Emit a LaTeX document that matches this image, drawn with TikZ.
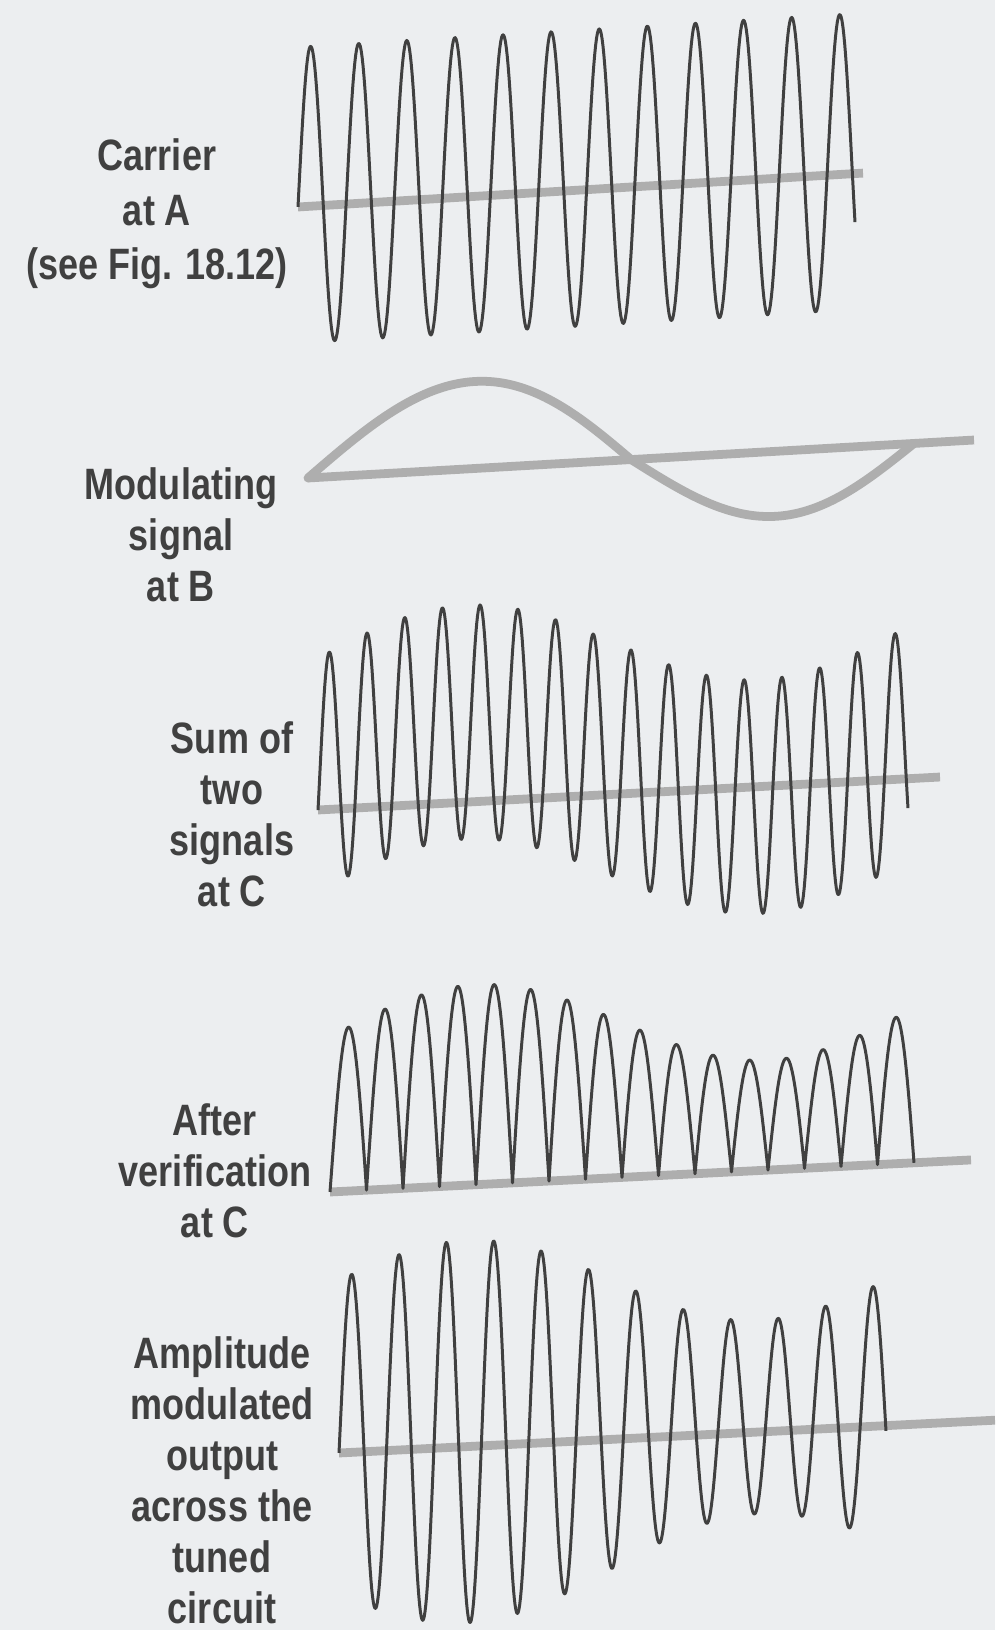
\documentclass[tikz,border=0pt]{standalone}
\usepackage{fontspec}
\newfontfamily\capfont{Liberation Sans}[FakeStretch=0.82]
\definecolor{inkgray}{HTML}{404040}
\definecolor{axisgray}{HTML}{AEAEAE}
\definecolor{paper}{HTML}{ECEEF0}

\begin{document}
\begin{tikzpicture}[
  x=0.02cm, y=0.02cm,
  axisline/.style={draw=axisgray, line width=5pt},
  wave/.style={draw=inkgray, line width=1.7pt, line join=round},
  modwave/.style={draw=axisgray, line width=5pt, line cap=round},
  lbl/.style={font=\capfont\bfseries\fontsize{25}{29}\selectfont, text=inkgray, align=center, inner sep=0pt}
]
\useasboundingbox (0,0) rectangle (995,1630);
\fill[paper] (0,0) rectangle (995,1630);

% labels
\node[lbl, font=\capfont\bfseries\fontsize{25}{31}\selectfont] (carrierA) at (157,1416)
  {Carrier\\at A\\(see Fig. 18.12)};
\node[lbl] (modB) at (181,1095) {Modulating\\signal\\at B};
\node[lbl] (sumC) at (232,816) {Sum of\\two\\signals\\at C};
\node[lbl] (rectC) at (215,459) {After\\verification\\at C};
\node[lbl] (amout) at (222,150) {Amplitude\\modulated\\output\\across the\\tuned\\circuit};

% carrier at A
\begin{scope}[shift={(298,1423)}, yslant=0.06]
  \draw[axisline] (0,0) -- (565,0);
  \draw[wave] plot[domain=0:557, samples=600] (\x, {148*sin(\x/48.1*360-4.6)+12});
\end{scope}

% modulating signal at B
\begin{scope}[shift={(308,1152)}, yslant=0.057]
  \draw[axisline] (0,0) -- (666,0);
  \draw[modwave] plot[domain=0:606, samples=200]
    (\x, {76*sin(\x/606*360-12*sin(\x/606*180))+11*abs(sin(\x/606*360-12*sin(\x/606*180)))});
\end{scope}

% sum of the two
\begin{scope}[shift={(318,820)}, yslant=0.053]
  \draw[axisline] (0,0) -- (622,0);
  \draw[wave] plot[domain=0:590, samples=700]
    (\x, {117*sin(\x/37.72*360-17.5)+35+45*sin(\x/590*360)});
\end{scope}

% after rectification
\begin{scope}[shift={(330,438)}, yslant=0.05]
  \draw[axisline] (0,0) -- (641,0);
  \draw[wave] plot[domain=0:584, samples=1169]
    (\x, {(155+45*sin(\x/584*360))*abs(sin(\x/584*2880))});
\end{scope}

% AM output
\begin{scope}[shift={(339,177)}, yslant=0.05]
  \draw[axisline] (0,0) -- (656,0);
  \draw[wave] plot[domain=0:547, samples=700]
    (\x, {(158+40*sin(\x/547*360)-\x/547*28)*sin(\x/47.4*360-5.4)+15});
\end{scope}
\end{tikzpicture}
\end{document}
